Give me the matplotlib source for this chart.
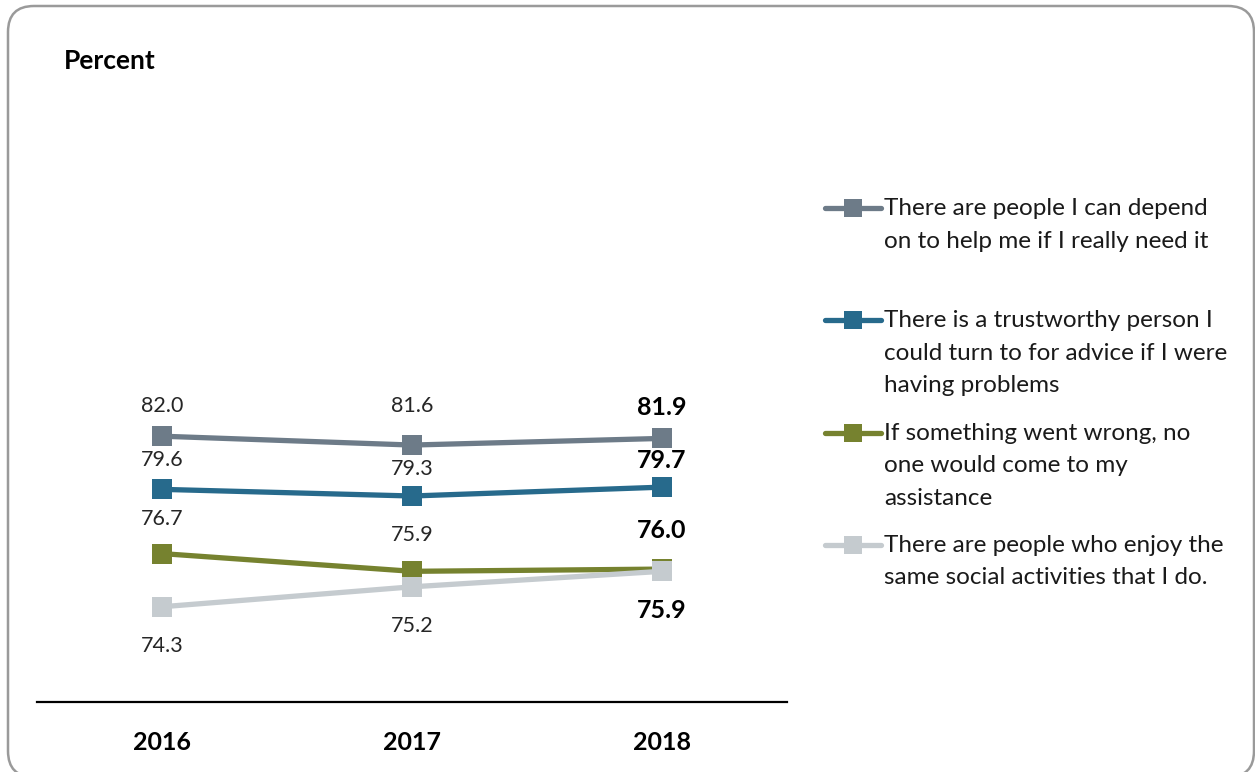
import matplotlib
matplotlib.use("Agg")
import matplotlib.pyplot as plt
from matplotlib.patches import FancyBboxPatch
from matplotlib.lines import Line2D

plt.rcParams['font.family'] = ['Lato', 'DejaVu Sans']

years = ["2016", "2017", "2018"]
series_names = [
    "There are people I can depend\non to help me if I really need it",
    "There is a trustworthy person I\ncould turn to for advice if I were\nhaving problems",
    "If something went wrong, no\none would come to my\nassistance",
    "There are people who enjoy the\nsame social activities that I do.",
]
depend_on = [82.0, 81.6, 81.9]
trustworthy = [79.6, 79.3, 79.7]
no_one_help = [76.7, 75.9, 76.0]
social_activities = [74.3, 75.2, 75.9]
values = [depend_on, trustworthy, no_one_help, social_activities]
colors = ["#6D7B88", "#276A8C", "#76822F", "#C5CBCF"]
# label offsets in points: positive = above the marker
label_offsets = [
    [22, 28, 22],
    [21, 19.5, 19.5],
    [25, 26, 28],
    [-28, -28, -28],
]

W, H = 1255, 772
fig = plt.figure(figsize=(W / 100, H / 100), dpi=100)

# background layer in pixel units (origin bottom-left) holding the rounded frame
bg = fig.add_axes([0, 0, 1, 1], zorder=-1)
bg.set_xlim(0, W)
bg.set_ylim(0, H)
bg.axis("off")
bg.add_patch(FancyBboxPatch((8, H - 777), 1254 - 8, 777 - 6,
                            boxstyle="round,pad=0,rounding_size=26",
                            facecolor="none", edgecolor="#9A9A9A", linewidth=1.8,
                            clip_on=False))

ax_left, ax_right = 37, 787
ax_top, ax_bottom = 259, 702
ax = fig.add_axes([ax_left / W, (H - ax_bottom) / H,
                   (ax_right - ax_left) / W, (ax_bottom - ax_top) / H])
ax.set_facecolor("none")

x = list(range(len(years)))
for vals, col in zip(values, colors):
    ax.plot(x, vals, color=col, linewidth=3.8, marker="s", markersize=14,
            markeredgewidth=0, zorder=3)
for vals, col, offs in zip(values, colors, label_offsets):
    for i, (v, off) in enumerate(zip(vals, offs)):
        last = i == len(vals) - 1
        ax.annotate(f"{v:.1f}", (i, v), xytext=(0, off), textcoords="offset points",
                    ha="center", va="center",
                    fontsize=18 if last else 15.5,
                    fontweight="bold" if last else "normal",
                    color="#000000" if last else "#262626", zorder=4)

ax.set_xlim(-0.5, 2.5)
ax.set_ylim(70, 90)
for side in ["top", "right", "left"]:
    ax.spines[side].set_visible(False)
ax.spines["bottom"].set_linewidth(1.6)
ax.spines["bottom"].set_color("#000000")
ax.set_yticks([])
ax.set_xticks(x)
ax.set_xticklabels(years, fontsize=18, fontweight="bold")
ax.tick_params(axis="x", length=0, pad=21)

fig.text(64 / W, 1 - 61 / H, "Percent", fontsize=19, fontweight="bold",
         ha="left", va="center")

# legend entries, one text line at a time
legend_y = [208, 320, 433, 545]
line_step = 32.5
for name, col, ly in zip(series_names, colors, legend_y):
    yy = 1 - ly / H
    fig.add_artist(Line2D([825 / W, 881 / W], [yy, yy], color=col, linewidth=3.8,
                          transform=fig.transFigure, solid_capstyle="round"))
    fig.add_artist(Line2D([853 / W], [yy], color=col, marker="s", markersize=13,
                          markeredgewidth=0, transform=fig.transFigure))
    for k, line in enumerate(name.split("\n")):
        base = ly + 7 + k * line_step
        fig.text(884 / W, 1 - base / H, line, fontsize=17.5, ha="left",
                 va="baseline", color="#1a1a1a")

fig.savefig("out.png", dpi=100)
